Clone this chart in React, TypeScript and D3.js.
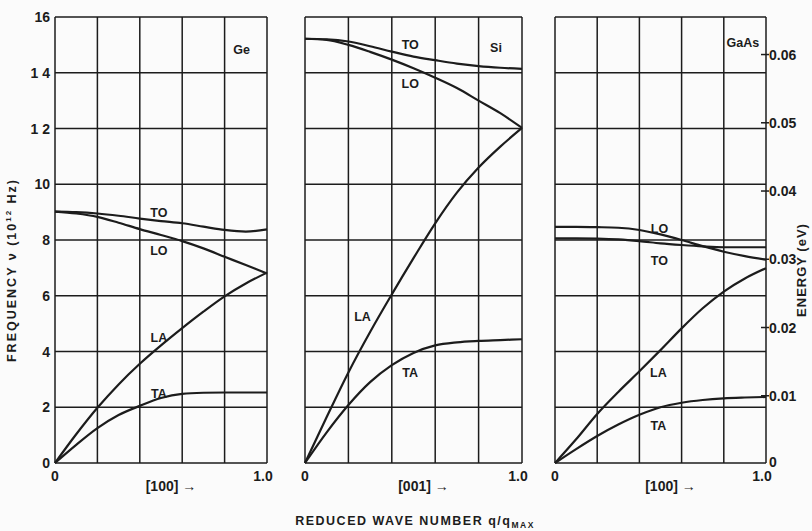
import React from 'react';
import * as d3 from 'd3';

// reduced wave number samples (q / q_max)
const qValues = [0, 0.1, 0.2, 0.3, 0.4, 0.5, 0.6, 0.7, 0.8, 0.9, 1.0];

// Ge [100], frequency in 10^12 Hz
const geTO = [9.02, 9.0, 8.95, 8.87, 8.77, 8.68, 8.6, 8.48, 8.36, 8.3, 8.38];
const geLO = [9.02, 8.95, 8.83, 8.62, 8.39, 8.18, 7.96, 7.7, 7.4, 7.1, 6.8];
const geLA = [0, 1.03, 1.98, 2.82, 3.56, 4.22, 4.84, 5.43, 5.98, 6.44, 6.83];
const geTA = [0, 0.65, 1.25, 1.72, 2.05, 2.33, 2.48, 2.52, 2.53, 2.53, 2.53];

// Si [001]
const siTO = [15.22, 15.2, 15.12, 14.95, 14.76, 14.58, 14.45, 14.33, 14.24, 14.18, 14.14];
const siLO = [15.22, 15.18, 15.0, 14.75, 14.47, 14.16, 13.82, 13.45, 13.0, 12.55, 12.02];
const siLA = [0, 1.65, 3.25, 4.7, 6.05, 7.35, 8.6, 9.7, 10.6, 11.35, 12.02];
const siTA = [0, 1.1, 2.08, 2.9, 3.51, 3.95, 4.22, 4.33, 4.38, 4.41, 4.44];

// GaAs [100]
const gaasLO = [8.47, 8.47, 8.46, 8.44, 8.36, 8.2, 8.0, 7.78, 7.58, 7.42, 7.29];
const gaasTO = [8.06, 8.06, 8.05, 8.02, 7.96, 7.88, 7.82, 7.77, 7.74, 7.74, 7.74];
const gaasLA = [0, 0.85, 1.76, 2.55, 3.29, 4.05, 4.83, 5.55, 6.15, 6.62, 6.99];
const gaasTA = [0, 0.5, 0.97, 1.38, 1.73, 2.0, 2.16, 2.26, 2.32, 2.35, 2.37];

const freqTicks = [0, 2, 4, 6, 8, 10, 12, 14, 16];
const freqTickLabels = ['0', '2', '4', '6', '8', '10', '1 2', '1 4', '16'];
const qGrid = [0, 0.2, 0.4, 0.6, 0.8, 1.0];
const energyTicks = [0, 0.01, 0.02, 0.03, 0.04, 0.05, 0.06];
const energyTickLabels = ['0', '0.01', '0.02', '0.03', '0.04', '0.05', '0.06'];

const panels = [
  {
    material: 'Ge', direction: '[100]', left: 55, right: 267,
    curves: [geTO, geLO, geLA, geTA],
    labels: [
      { text: 'TO', q: 0.49, f: 9.0 },
      { text: 'LO', q: 0.49, f: 7.64 },
      { text: 'LA', q: 0.49, f: 4.52 },
      { text: 'TA', q: 0.49, f: 2.51 },
    ],
    tag: { q: 0.88, f: 14.85 },
  },
  {
    material: 'Si', direction: '[001]', left: 305, right: 522,
    curves: [siTO, siLO, siLA, siTA],
    labels: [
      { text: 'TO', q: 0.485, f: 15.03 },
      { text: 'LO', q: 0.485, f: 13.6 },
      { text: 'LA', q: 0.265, f: 5.24 },
      { text: 'TA', q: 0.485, f: 3.23 },
    ],
    tag: { q: 0.88, f: 14.89 },
  },
  {
    material: 'GaAs', direction: '[100]', left: 555, right: 766,
    curves: [gaasLO, gaasTO, gaasLA, gaasTA],
    labels: [
      { text: 'LO', q: 0.495, f: 8.43 },
      { text: 'TO', q: 0.495, f: 7.28 },
      { text: 'LA', q: 0.49, f: 3.23 },
      { text: 'TA', q: 0.49, f: 1.33 },
    ],
    tag: { q: 0.89, f: 15.07 },
  },
];

const width = 812;
const height = 531;
const top = 17;
const bottom = 463;
const ink = '#1c1c1c';
const font = '"Liberation Sans", Arial, sans-serif';

const y = d3.scaleLinear().domain([0, 16]).range([bottom, top]);
const yEnergy = d3.scaleLinear().domain([0, 0.0655]).range([bottom + 1, top]);

const Panel = ({ p }: { p: typeof panels[number] }) => {
  const x = d3.scaleLinear().domain([0, 1]).range([p.left, p.right]);
  const line = d3.line<number>()
    .x((_, i) => x(qValues[i]))
    .y(d => y(d))
    .curve(d3.curveMonotoneX);

  return (
    <g>
      {freqTicks.map(t => (
        <line key={'h' + t} x1={p.left} x2={p.right} y1={y(t)} y2={y(t)}
          stroke={ink} strokeWidth={1.5} />
      ))}
      {qGrid.map(t => (
        <line key={'v' + t} x1={x(t)} x2={x(t)} y1={top} y2={bottom}
          stroke={ink} strokeWidth={1.5} />
      ))}
      {p.curves.map((c, i) => (
        <path key={i} d={line(c) || ''} fill="none" stroke={ink} strokeWidth={2.2} />
      ))}
      {p.labels.map((l, i) => (
        <text key={i} x={x(l.q)} y={y(l.f)} dy="0.36em" textAnchor="middle"
          fontSize={12.5} fontWeight="bold">{l.text}</text>
      ))}
      <text x={x(p.tag.q)} y={y(p.tag.f)} dy="0.36em" textAnchor="middle"
        fontSize={12.5} fontWeight="bold">{p.material}</text>
      <text x={x(0)} y={481} textAnchor="middle" fontSize={14} fontWeight="bold">0</text>
      <text x={x(1) - 4} y={481} textAnchor="middle" fontSize={14} fontWeight="bold">1.0</text>
      <text x={x(0.5) + 10} y={491} textAnchor="middle" fontSize={14} fontWeight="bold">
        {p.direction} →
      </text>
    </g>
  );
};

const App = () => {
  const right = panels[2].right;
  return (
    <svg width={width} height={height} fontFamily={font} fill={ink}
      style={{ position: 'absolute', left: 0, top: 0, background: '#fbfbfb' }}>
      {panels.map(p => <Panel key={p.material} p={p} />)}

      {/* frequency axis (left) */}
      {freqTicks.map((t, i) => (
        <text key={t} x={50} y={y(t)} dy="0.36em" textAnchor="end" fontSize={14}
          fontWeight="bold">{freqTickLabels[i]}</text>
      ))}
      <text transform={`translate(16,${270}) rotate(-90)`} textAnchor="middle"
        fontSize={12.5} fontWeight="bold" letterSpacing={2}>
        FREQUENCY ν (10<tspan dy="-5" fontSize={8}>12</tspan><tspan dy="5"> Hz)</tspan>
      </text>

      {/* energy axis (right) */}
      {energyTicks.map((t, i) => (
        <g key={t}>
          {t > 0 && (
            <line x1={right - 5} x2={right + 3} y1={yEnergy(t)} y2={yEnergy(t)}
              stroke={ink} strokeWidth={1.5} />
          )}
          <text x={right + 3} y={yEnergy(t) - (t === 0 ? 2 : 0)} dy="0.36em"
            fontSize={14} fontWeight="bold">{energyTickLabels[i]}</text>
        </g>
      ))}
      <text transform={`translate(806,${270}) rotate(-90)`} textAnchor="middle"
        fontSize={13} fontWeight="bold" letterSpacing={1}>ENERGY (eV)</text>

      <text x={415} y={525} textAnchor="middle" fontSize={12.5} fontWeight="bold"
        letterSpacing={1.5}>
        REDUCED WAVE NUMBER q/q<tspan dy="3" fontSize={8.5}>MAX</tspan>
      </text>
    </svg>
  );
};

export default App;
